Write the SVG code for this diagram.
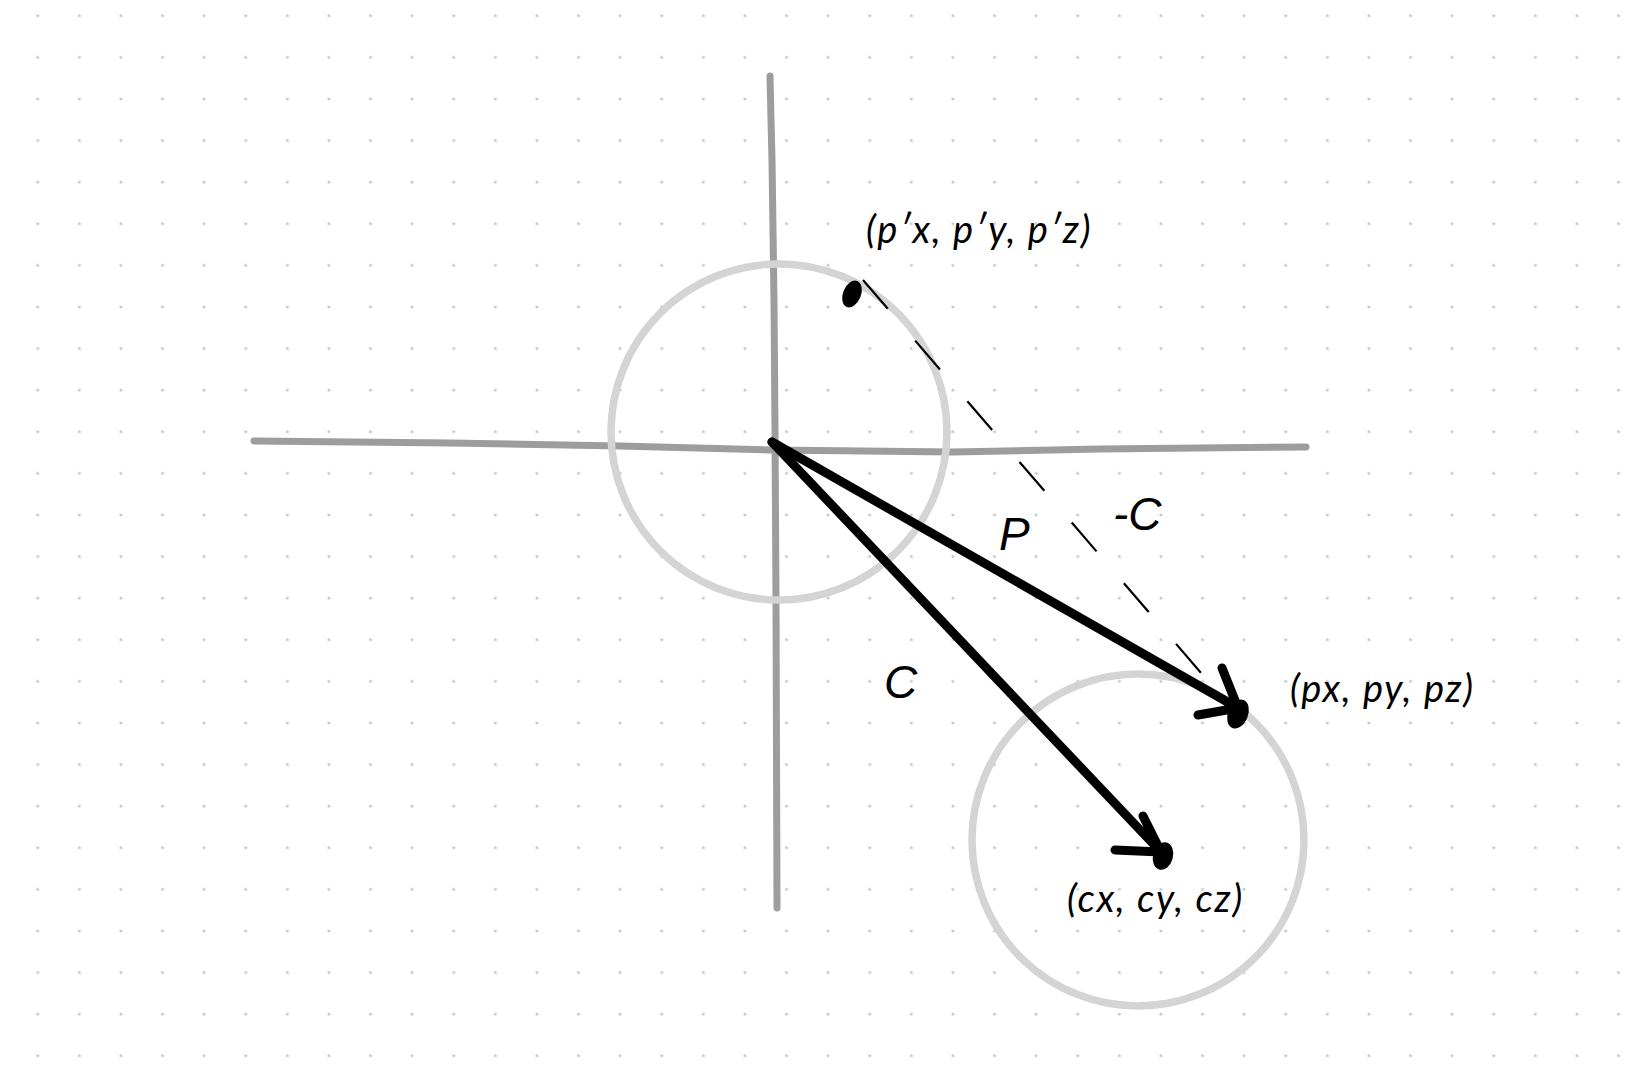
<svg xmlns="http://www.w3.org/2000/svg" width="1625" height="1067" viewBox="0 0 1625 1067">
<defs>
<pattern id="grid" x="16.9" y="-5.1" width="41.6" height="41.6" patternUnits="userSpaceOnUse">
<circle cx="20.8" cy="20.8" r="1.6" fill="#c9c9c9"/>
</pattern>
<style>
.axis{fill:none;stroke:#9d9d9d;stroke-width:7;stroke-linecap:round;stroke-linejoin:round}
.ring{fill:none;stroke:#d4d4d4;stroke-width:7.5}
.vec{fill:none;stroke:#000;stroke-width:9;stroke-linecap:round;stroke-linejoin:round}
.dash{fill:none;stroke:#000;stroke-width:2.2;stroke-dasharray:38 42}
.pt{fill:#000}
.coord{font-family:Lato,"Open Sans",sans-serif;font-style:italic;font-size:38px;letter-spacing:1.8px;fill:#000}
.lab{font-family:"Liberation Sans",Arial,sans-serif;font-style:italic;font-size:46px;fill:#000}
</style>
</defs>
<rect width="1625" height="1067" fill="#fff"/>
<rect width="1625" height="1067" fill="url(#grid)"/>
<g id="axes">
<polyline class="axis" points="770,76 771,120 772,160 774,300 775,430 776,600 777,908"/>
<polyline class="axis" points="254,441 450,443 620,446 772,450 953,452 1100,449 1306,447"/>
</g>
<g id="circle-origin"><circle class="ring" cx="779" cy="432" r="168"/></g>
<g id="circle-c"><circle class="ring" cx="1138" cy="840" r="166"/></g>
<g id="connectors">
<line class="dash" x1="863" y1="280" x2="1202" y2="674"/>
<path class="vec" d="M772,442 L1238,708 M1222,668 L1238,708 L1198,715"/>
<path class="vec" d="M772,442 L1161,852 M1143,816 L1161,852 L1115,850"/>
</g>
<g id="point-pprime">
<ellipse class="pt" cx="852" cy="294" rx="9" ry="14" transform="rotate(22 852 294)"/>
<text class="coord" x="866" y="243">(p′x, p′y, p′z)</text>
</g>
<g id="point-p">
<ellipse class="pt" cx="1238" cy="714" rx="10" ry="15" transform="rotate(22 1238 714)"/>
<text class="coord" x="1290" y="702">(px, py, pz)</text>
</g>
<g id="point-c">
<ellipse class="pt" cx="1163" cy="856" rx="10" ry="14" transform="rotate(15 1163 856)"/>
<text class="coord" x="1067" y="912">(cx, cy, cz)</text>
</g>
<g id="labels">
<text class="lab" x="999" y="550">P</text>
<text class="lab" x="1113" y="530">-C</text>
<text class="lab" x="884" y="698">C</text>
</g>
</svg>
